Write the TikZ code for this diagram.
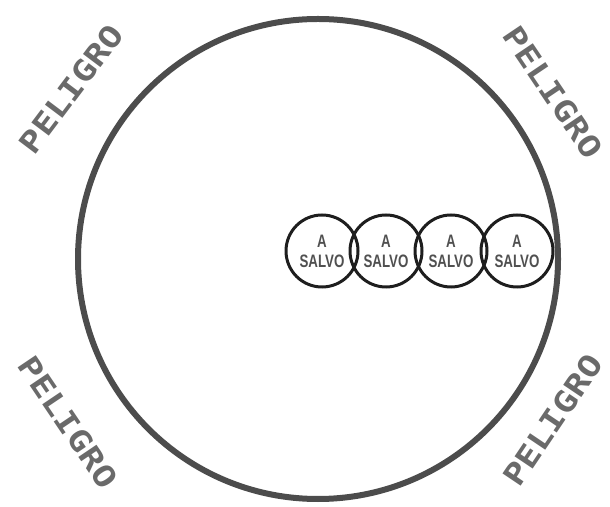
\documentclass[tikz,border=0pt]{standalone}
\usepackage{fontspec}
\usepackage{tikz}
\newfontfamily\peligrofont[FakeStretch=1.2]{DejaVu Sans Mono}
\newfontfamily\salvofont[FakeStretch=0.74]{Liberation Sans}
\definecolor{ringgray}{HTML}{4C4C4C}
\definecolor{inkgray}{HTML}{6A6A6A}
\definecolor{salvoink}{HTML}{1E1E1E}

\begin{document}
\begin{tikzpicture}[x=1pt, y=1pt,
	peligro/.style={inkgray, font=\peligrofont\bfseries\fontsize{30}{30}\selectfont, inner sep=0pt},
	salvo/.style={circle, draw=salvoink, line width=3pt, minimum size=72pt, inner sep=0pt,
		align=center, text=inkgray!75!black, font=\salvofont\bfseries\fontsize{18}{20}\selectfont}]
	\useasboundingbox (0,0) rectangle (610,506);
	\draw[ringgray, line width=6pt] (318,247) circle (240);
	\foreach \x [count=\i] in {322,386,451,517}
		\node[salvo] (salvo\i) at (\x,255) {A\\SALVO};
	\node[peligro, rotate=53] (peligroNO) at (71,417) {PELIGRO};
	\node[peligro, rotate=-56] (peligroNE) at (553,414) {PELIGRO};
	\node[peligro, rotate=-56] (peligroSO) at (68,84) {PELIGRO};
	\node[peligro, rotate=56] (peligroSE) at (553,86) {PELIGRO};
\end{tikzpicture}
\end{document}
